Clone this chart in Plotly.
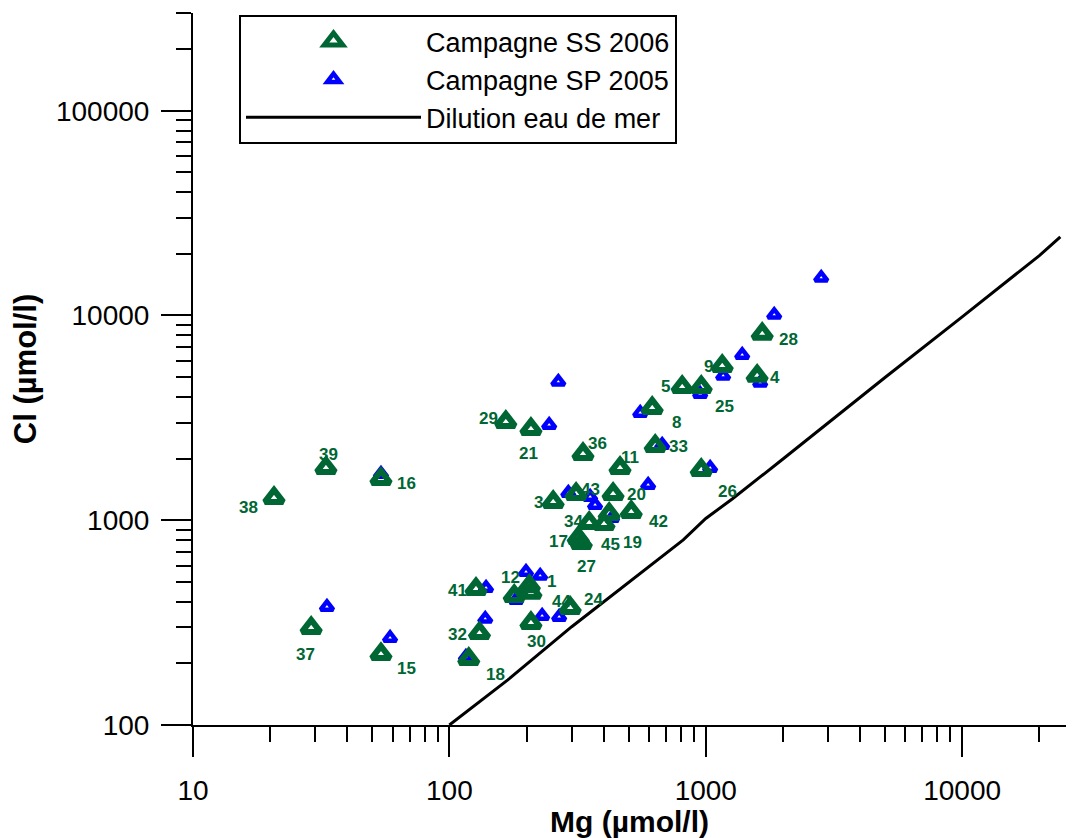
import numpy as np
import plotly.graph_objects as go

# --- Campagne SS 2006 (sample id, Mg and Cl in µmol/l) ---
ss_ids = ["38", "39", "16", "37", "15", "41", "32", "18", "12", "1", "44", "30",
          "24", "29", "21", "36", "11", "33", "26", "20", "42", "3", "43", "34",
          "45", "19", "17", "27", "8", "5", "25", "9", "4", "28"]
ss_mg = [20.7, 33.0, 54.1, 28.9, 54.1, 127, 131, 119, 179, 205, 208, 208,
         296, 166, 208, 332, 463, 635, 960, 435, 512, 254, 312, 351,
         401, 420, 318, 327, 618, 809, 960, 1159, 1586, 1660]
ss_cl = [1285, 1801, 1591, 298, 222, 462, 281, 210, 427, 478, 442, 315,
         373, 3021, 2793, 2108, 1801, 2307, 1761, 1344, 1098, 1228, 1344, 970,
         959, 1073, 819, 775, 3537, 4479, 4479, 5673, 5070, 8131]

# --- Campagne SP 2005 ---
sp_mg = [54.1, 33.3, 58.7, 116, 139, 138, 199, 226, 182, 230, 268, 245, 266,
         291, 354, 370, 431, 596, 555, 676, 1040, 951, 1169, 1387, 1630, 1849, 2820]
sp_cl = [1684, 377, 266, 215, 467, 330, 559, 535, 408, 341, 337, 2921, 4739,
         1359, 1299, 1188, 1026, 1487, 3344, 2333, 1801, 4140, 5070, 6420, 4686, 10070, 15270]

# --- Seawater dilution line ---
dil_mg = [100, 169, 300, 500, 817, 1000, 1268, 2000, 3343, 5000, 10000, 15000, 20000, 24150]
dil_cl = [100, 166, 302, 495, 802, 1020, 1270, 1990, 3342, 4980, 9850, 14800, 19600, 24200]

# --- Axis tick labels ---
x_ticks = [10, 100, 1000, 10000]
y_ticks = [100, 1000, 10000, 100000]

# label placement around each SS 2006 marker (pixels: right, down)
label_offsets = [(-26, 10), (3, -13), (26, 5), (-6, 27), (26, 14), (-19, 2), (-22, 1),
                 (27, 15), (-4, -18), (22, -4), (31, 9), (6, 19), (23, -8), (-17, -3),
                 (-2, 25), (14, -10), (10, -10), (23, 1), (26, 22), (23, 1), (27, 10),
                 (-15, 1), (14, -4), (-16, -1), (6, 21), (23, 29), (-20, 4), (5, 24),
                 (24, 15), (-17, 0), (23, 20), (-14, 1), (18, 2), (26, 6)]

GREEN = "#006633"
BLUE = "#0000FF"
FONT = "Liberation Sans, Arial, sans-serif"

fig = go.Figure()

fig.add_trace(go.Scatter(
    x=sp_mg, y=sp_cl, mode="markers", name="Campagne SP 2005", legendrank=2,
    marker=dict(symbol="triangle-up-open", size=11, color=BLUE,
                line=dict(width=4.5, color=BLUE)),
))
fig.add_trace(go.Scatter(
    x=ss_mg, y=ss_cl, mode="markers", name="Campagne SS 2006", legendrank=1,
    marker=dict(symbol="triangle-up-open", size=16, color=GREEN,
                line=dict(width=6, color=GREEN)),
))
fig.add_trace(go.Scatter(
    x=dil_mg, y=dil_cl, mode="lines", name="Dilution eau de mer", legendrank=3,
    line=dict(color="black", width=3),
))

for sid, mg, cl, (dx, dy) in zip(ss_ids, ss_mg, ss_cl, label_offsets):
    fig.add_annotation(
        x=np.log10(mg), y=np.log10(cl), text=sid, showarrow=False,
        xshift=dx, yshift=-dy, xanchor="center", yanchor="middle",
        font=dict(family=FONT, size=17, color=GREEN, weight="bold"),
    )

axis_common = dict(
    type="log", showline=True, linecolor="black", linewidth=2,
    ticks="outside", ticklen=30, tickwidth=2, tickcolor="black",
    showgrid=False, zeroline=False, mirror=False, automargin=False,
    tickfont=dict(family=FONT, size=28, color="black"),
    minor=dict(ticks="outside", ticklen=15, tickwidth=2, tickcolor="black",
               dtick="D1", showgrid=False),
)

fig.update_layout(
    width=1074, height=838, autosize=False,
    margin=dict(l=193, r=8, t=13, b=113, pad=0),
    paper_bgcolor="white", plot_bgcolor="white",
    font=dict(family=FONT, color="black"),
    xaxis=dict(axis_common, range=[1, 4.405],
               tickmode="array", tickvals=x_ticks, ticktext=[str(v) for v in x_ticks],
               ticklabelstandoff=9,
               title=dict(text="Mg (µmol/l)", standoff=5,
                          font=dict(family=FONT, size=30, weight="bold"))),
    yaxis=dict(axis_common, range=[2, np.log10(300000)],
               tickmode="array", tickvals=y_ticks, ticktext=[str(v) for v in y_ticks],
               ticklabelstandoff=6,
               title=dict(text="Cl (µmol/l)", standoff=10,
                          font=dict(family=FONT, size=31, weight="bold"))),
    showlegend=True,
    legend=dict(x=(239 - 193) / 873, y=1 - 2 / 712, xanchor="left", yanchor="top",
                bordercolor="black", borderwidth=2, bgcolor="white",
                font=dict(family=FONT, size=27, color="black"),
                itemwidth=175, tracegroupgap=0),
)

fig.write_html("out.html")
